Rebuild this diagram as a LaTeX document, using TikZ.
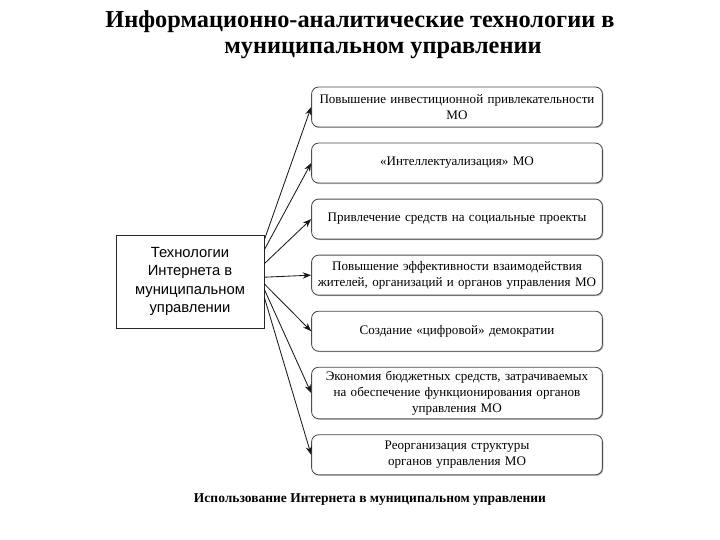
\documentclass[tikz,border=0pt]{standalone}
\usepackage{fontspec}
\setmainfont{Liberation Serif}
\newfontfamily\arialfont{Liberation Sans}
\usetikzlibrary{positioning,shadows,arrows.meta}
\begin{document}
\begin{tikzpicture}
[node distance=0.38cm,thin,
 aimbox/.style={draw=black!70,semithick,rounded corners=5pt,text width=7.2cm,align=center,
   minimum width=7.25cm,minimum height=1cm,inner xsep=1pt,inner ysep=2.5pt,font=\fontsize{9.3}{11.5}\selectfont,
   fill=white,drop shadow={shadow xshift=0.7pt,shadow yshift=-0.7pt,opacity=0.6}},
 techbox/.style={draw=black!85,semithick,align=center,minimum width=3.7cm,minimum height=2.325cm,
   font=\arialfont\fontsize{10.5}{13.2}\selectfont},
 arr/.style={-{Stealth[length=6pt,width=4.5pt]},semithick,black!90}]
\useasboundingbox (0,0) rectangle (18,-13.5);
\node[font=\bfseries\fontsize{17.3}{20}\selectfont] (title1) at (9,-0.55) {Информационно-аналитические технологии в};
\node[font=\bfseries\fontsize{17.3}{20}\selectfont] (title2) at (9.575,-1.25) {муниципальном управлении};
\node[techbox] (lb) at (4.75,-7.04) {Технологии\\Интернета в\\муниципальном\\управлении};
\node[aimbox] (b1) at (11.425,-2.675) {Повышение инвестиционной привлекательности\\МО};
\node[aimbox,below=of b1] (b2) {«Интеллектуализация» МО};
\node[aimbox,below=of b2] (b3) {Привлечение средств на социальные проекты};
\node[aimbox,below=of b3] (b4) {Повышение эффективности взаимодействия\\жителей, организаций и органов управления МО};
\node[aimbox,below=of b4] (b5) {Создание «цифровой» демократии};
\node[aimbox,below=of b5] (b6) {Экономия бюджетных средств, затрачиваемых\\на обеспечение функционирования органов\\управления МО};
\node[aimbox,below=of b6] (b7) {Реорганизация структуры\\органов управления МО};
\foreach \i/\s in {1/1.05,2/0.8,3/0.45,4/0.11,5/-0.06,6/-0.2,7/-0.4}
  \draw[arr] ([yshift=\s cm]lb.east) -- (b\i.west);
\node[font=\bfseries\fontsize{9.6}{11}\selectfont] (caption) at (9.25,-12.5) {Использование Интернета в муниципальном управлении};
\end{tikzpicture}
\end{document}
